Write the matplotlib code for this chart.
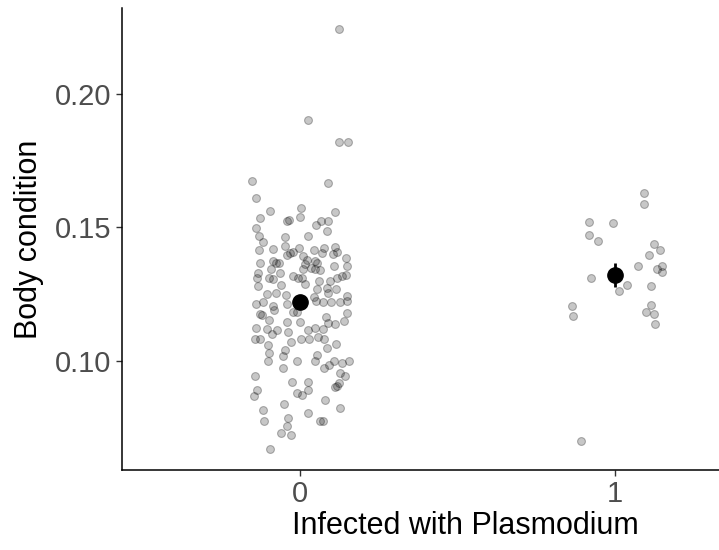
"""Body condition by Plasmodium infection: jittered points with group means and error bars."""

import matplotlib

matplotlib.use("Agg")
import matplotlib.pyplot as plt
import numpy as np

plt.rcParams["font.family"] = ["Liberation Sans", "DejaVu Sans"]

groups = [0, 1]
group_labels = ["0", "1"]

# uninfected (group 0): horizontal jitter offset and body condition
jitter_0 = [
    0.125, 0.026, 0.125, 0.151, -0.151, 0.090, -0.140, -0.095, -0.128, 0.002,
    -0.001, 0.111, -0.042, -0.035, 0.051, 0.066, 0.090, -0.141, 0.086, -0.130,
    -0.048, 0.024, -0.118, -0.049, -0.087, -0.130, -0.002, 0.077, 0.112, -0.032,
    -0.021, 0.044, -0.040, 0.010, 0.069, 0.104, 0.117, -0.127, -0.085, 0.021,
    0.048, 0.146, -0.076, -0.066, 0.017, 0.053, -0.092, 0.036, 0.047, 0.109,
    0.150, 0.010, 0.063, -0.134, -0.063, -0.021, -0.097, -0.085, -0.137, -0.005,
    0.005, 0.117, 0.132, 0.146, 0.060, 0.095, -0.132, -0.060, 0.016, 0.053,
    0.087, 0.114, -0.106, -0.076, -0.044, 0.044, 0.090, 0.148, 0.148, -0.141,
    -0.117, -0.085, -0.042, 0.072, 0.097, 0.051, 0.127, -0.083, -0.127, -0.120,
    -0.097, -0.042, -0.021, -0.009, 0.000, 0.083, 0.090, 0.111, 0.141, 0.148,
    -0.140, -0.104, -0.090, -0.074, -0.037, 0.026, 0.048, 0.074, -0.143, -0.127,
    -0.103, -0.029, 0.003, 0.030, 0.056, 0.076, 0.114, 0.085, -0.048, -0.099,
    -0.055, -0.101, -0.009, 0.053, 0.048, -0.053, 0.077, 0.093, 0.108, 0.132,
    0.157, 0.127, 0.143, -0.143, -0.026, 0.026, 0.125, 0.117, 0.111, -0.137,
    -0.146, -0.010, 0.007, 0.024, 0.079, -0.050, -0.118, 0.127, 0.025, -0.114,
    -0.039, -0.042, 0.063, 0.074, -0.059, -0.029, -0.095,
]
body_0 = [
    0.2243, 0.1903, 0.1818, 0.1818, 0.1673, 0.1665, 0.1609, 0.1561, 0.1536, 0.1571,
    0.1538, 0.1557, 0.1522, 0.1528, 0.1509, 0.1524, 0.1522, 0.1497, 0.1486, 0.1467,
    0.1462, 0.1468, 0.1444, 0.1430, 0.1420, 0.1416, 0.1423, 0.1421, 0.1426, 0.1404,
    0.1409, 0.1413, 0.1395, 0.1394, 0.1404, 0.1398, 0.1408, 0.1367, 0.1372, 0.1379,
    0.1373, 0.1384, 0.1367, 0.1367, 0.1361, 0.1367, 0.1345, 0.1348, 0.1342, 0.1354,
    0.1354, 0.1342, 0.1338, 0.1327, 0.1327, 0.1317, 0.1311, 0.1305, 0.1308, 0.1311,
    0.1308, 0.1311, 0.1317, 0.1320, 0.1299, 0.1299, 0.1278, 0.1283, 0.1286, 0.1270,
    0.1274, 0.1270, 0.1249, 0.1252, 0.1247, 0.1239, 0.1252, 0.1243, 0.1224, 0.1212,
    0.1218, 0.1203, 0.1212, 0.1218, 0.1218, 0.1224, 0.1218, 0.1191, 0.1175, 0.1171,
    0.1154, 0.1146, 0.1181, 0.1181, 0.1146, 0.1163, 0.1141, 0.1138, 0.1150, 0.1179,
    0.1122, 0.1119, 0.1100, 0.1113, 0.1107, 0.1115, 0.1122, 0.1119, 0.1082, 0.1082,
    0.1060, 0.1070, 0.1082, 0.1082, 0.1090, 0.1082, 0.1063, 0.1047, 0.1038, 0.1030,
    0.1018, 0.0998, 0.0999, 0.1022, 0.0999, 0.0974, 0.0974, 0.0983, 0.0998, 0.0992,
    0.0998, 0.0952, 0.0943, 0.0943, 0.0921, 0.0918, 0.0915, 0.0906, 0.0902, 0.0890,
    0.0867, 0.0880, 0.0871, 0.0888, 0.0853, 0.0839, 0.0815, 0.0824, 0.0802, 0.0775,
    0.0785, 0.0756, 0.0772, 0.0772, 0.0729, 0.0722, 0.0669,
]

# infected (group 1)
jitter_1 = [
    0.093, 0.093, -0.082, -0.007, -0.083, -0.054, 0.124, 0.143, 0.109, 0.074,
    0.149, 0.134, 0.149, -0.075, 0.039, 0.014, 0.116, -0.137, -0.133, 0.116,
    0.098, 0.125, 0.128, -0.107,
]
body_1 = [
    0.1629, 0.1587, 0.1518, 0.1516, 0.1470, 0.1447, 0.1436, 0.1415, 0.1395, 0.1354,
    0.1354, 0.1342, 0.1332, 0.1308, 0.1284, 0.1260, 0.1279, 0.1203, 0.1168, 0.1209,
    0.1181, 0.1174, 0.1137, 0.0700,
]

group_means = [0.1221, 0.1322]
group_se = [0.0013, 0.0045]

# the panel runs past the right edge of the picture (the reference is cropped)
fig = plt.figure(figsize=(7.19, 5.5), dpi=100)
ax = fig.add_axes([0.1697, 0.1455, 0.9541, 0.84])

for g, jit, vals in [(0, jitter_0, body_0), (1, jitter_1, body_1)]:
    ax.scatter(
        g + np.asarray(jit),
        vals,
        s=32,
        facecolor=(0, 0, 0, 0.22),
        edgecolor=(0, 0, 0, 0.28),
        linewidths=0.8,
        zorder=2,
        clip_on=False,
    )

ax.errorbar(
    groups,
    group_means,
    yerr=group_se,
    fmt="o",
    color="black",
    markersize=11,
    elinewidth=2,
    capsize=0,
    zorder=3,
)

ax.set_xlim(-0.565, 1.613)
ax.set_ylim(0.059, 0.2322)
ax.set_xticks(groups)
ax.set_xticklabels(group_labels)
ax.set_yticks([0.10, 0.15, 0.20])
ax.set_yticklabels(["0.10", "0.15", "0.20"])

ax.set_xlabel("Infected with Plasmodium", fontsize=22, labelpad=2)
ax.set_ylabel("Body condition", fontsize=22, labelpad=8)
ax.tick_params(labelsize=21, labelcolor="#4d4d4d", color="#333333", length=4, width=1)

for side in ["top", "right"]:
    ax.spines[side].set_visible(False)
for side in ["left", "bottom"]:
    ax.spines[side].set_linewidth(1.1)
    ax.spines[side].set_color("black")

fig.savefig("out.png", dpi=100)
plt.close(fig)
